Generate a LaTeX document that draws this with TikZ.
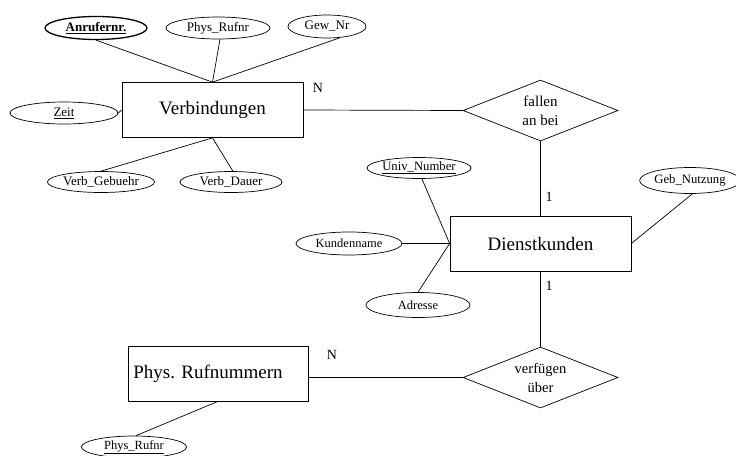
\documentclass[tikz,border=0pt]{standalone}
\usepackage{fontspec}
\setmainfont{Liberation Serif}
\usetikzlibrary{shapes.geometric}

\tikzset{
  entity/.style={draw, line width=0.7pt, rectangle, minimum width=181pt, minimum height=55pt,
                 inner sep=0pt, font=\fontsize{19}{22}\selectfont},
  attr/.style={draw, line width=0.7pt, ellipse, inner sep=0pt, font=\fontsize{13}{15}\selectfont},
  keyattr/.style={attr, line width=1.3pt},
  relation/.style={draw, line width=0.7pt, diamond, aspect=2.54, inner sep=0pt,
                   minimum width=155pt, minimum height=61pt, align=center,
                   font=\fontsize{15}{19}\selectfont},
  card/.style={font=\fontsize{14}{16}\selectfont, inner sep=0pt},
  link/.style={line width=0.7pt}
}

\begin{document}
\begin{tikzpicture}[x=1pt, y=-1pt]
  \useasboundingbox (0,0) rectangle (736,455);

  % entities
  \node[entity] (verb) at (212.5,110) {Verbindungen};
  \node[entity] (dk) at (540.5,243.5) {\raisebox{-3pt}{Dienstkunden}};
  \node[entity, minimum width=180pt] (phys) at (218,373.5)
       {\raisebox{-4pt}{Phys. Rufnummern}\hspace*{20pt}};

  % relationships
  \node[relation] (fallen) at (540.5,110.5) {fallen\\an bei};
  \node[relation, font=\fontsize{14.5}{19}\selectfont] (verf) at (540.5,377.5) {verfügen\\über};

  % attributes of Verbindungen
  \node[keyattr, minimum width=102pt, minimum height=23pt] (anr) at (96,28)
       {\textbf{\underline{Anrufernr.}}};
  \node[attr, minimum width=104pt, minimum height=22pt] (prtop) at (218,28) {Phys\_Rufnr};
  \node[attr, minimum width=78pt, minimum height=23pt] (gew) at (327,26.5) {Gew\_Nr};
  \node[attr, minimum width=108pt, minimum height=22pt] (zeit) at (64,113) {\underline{Zeit}};
  \node[attr, minimum width=105pt, minimum height=21pt] (vgeb) at (101,182) {Verb\_Gebuehr};
  \node[attr, minimum width=102pt, minimum height=21pt] (vdau) at (231,182) {Verb\_Dauer};

  % attributes of Dienstkunden
  \node[attr, minimum width=104pt, minimum height=21pt] (univ) at (419,168)
       {\fontsize{12.7}{15}\selectfont\underline{Univ\_Number}};
  \node[attr, minimum width=106pt, minimum height=23pt] (kname) at (349,243.5)
       {\fontsize{12.5}{15}\selectfont Kundenname};
  \node[attr, minimum width=104pt, minimum height=25pt] (adr) at (418,305)
       {\fontsize{12.5}{15}\selectfont Adresse};
  \node[attr, minimum width=94pt, minimum height=26pt] (geb) at (690,180.5)
       {\fontsize{12.7}{15}\selectfont Geb\_Nutzung};

  % attribute of Phys. Rufnummern
  \node[attr, minimum width=105pt, minimum height=22pt] (prbot) at (134,447)
       {\fontsize{12.5}{15}\selectfont\underline{Phys\_Rufnr}};

  % cardinalities
  \node[card] (n1) at (318,88) {N};
  \node[card] (c1) at (549,197) {1};
  \node[card] (c2) at (549,286) {1};
  \node[card] (n2) at (332,355) {N};

  % attribute links
  \draw[link] (anr.south) -- (verb.north);
  \draw[link] (prtop.-80) -- (verb.north);
  \draw[link] (gew.-40) -- (verb.north);
  \draw[link] (zeit.east) -- (verb.west);
  \draw[link] (vgeb.north) -- (verb.south);
  \draw[link] (vdau.80) -- (verb.south);

  \draw[link] (univ.-75) -- (dk.west);
  \draw[link] (kname.east) -- (dk.west);
  \draw[link] (adr.north) -- (dk.west);
  \draw[link] (geb.-80) -- (dk.east);

  \draw[link] (prbot.80) -- (phys.south);

  % relationship links
  \draw[link] (verb.east) -- (fallen.west);
  \draw[link] (fallen.south) -- (dk.north);
  \draw[link] (dk.south) -- (verf.north);
  \draw[link] (phys.east |- verf.west) -- (verf.west);
\end{tikzpicture}
\end{document}
